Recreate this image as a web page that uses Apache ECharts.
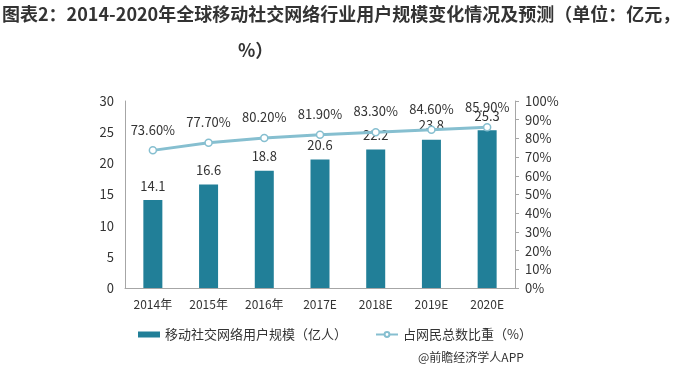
<!DOCTYPE html>
<html><head><meta charset="utf-8">
<script src="https://cdn.jsdelivr.net/npm/echarts@6/dist/echarts.min.js"></script>
<style>html,body{margin:0;padding:0;background:#fff}#c{width:680px;height:374px}</style>
</head><body><div id="c"></div>
<script>
const categories = ['2014年','2015年','2016年','2017E','2018E','2019E','2020E'];
const users = [14.1,16.6,18.8,20.6,22.2,23.8,25.3];
const share = [73.6,77.7,80.2,81.9,83.3,84.6,85.9];
const leftTicks = [0,5,10,15,20,25,30];
const rightTicks = [0,10,20,30,40,50,60,70,80,90,100];
const titleLine1 = '图表2：2014-2020年全球移动社交网络行业用户规模变化情况及预测（单位：亿元，';
const titleLine2 = '%）';
const seriesNames = ['移动社交网络用户规模（亿人）','占网民总数比重（%）'];
const sourceText = '@前瞻经济学人APP';

const chart = echarts.init(document.getElementById('c'));
const font = '"Noto Sans CJK SC","Noto Sans",sans-serif';
chart.setOption({
  animation:false,
  textStyle:{fontFamily:font},
  grid:{left:125,right:165,top:101,bottom:86},
  legend:{
    left:133, top:323, itemGap:28, itemWidth:22, itemHeight:6,
    textStyle:{fontSize:13,color:'#333',fontFamily:font},
    data:[{name:seriesNames[0],icon:'rect'},{name:seriesNames[1]}]
  },
  xAxis:{type:'category',data:categories,
    axisLine:{lineStyle:{color:'#a6a6a6'}},axisTick:{show:false},
    axisLabel:{color:'#333',fontSize:12,margin:10}},
  yAxis:[
    {type:'value',min:leftTicks[0],max:leftTicks[leftTicks.length-1],interval:5,
     axisLine:{show:true,lineStyle:{color:'#a6a6a6'}},axisTick:{show:false},
     splitLine:{show:false},axisLabel:{color:'#333',fontSize:13,margin:11}},
    {type:'value',min:rightTicks[0],max:rightTicks[rightTicks.length-1],interval:10,
     axisLine:{show:true,lineStyle:{color:'#a6a6a6'}},axisTick:{show:true,length:4,lineStyle:{color:'#a6a6a6'}},
     splitLine:{show:false},axisLabel:{color:'#333',fontSize:13,margin:10,formatter:'{value}%'}}
  ],
  series:[
    {name:seriesNames[0],type:'bar',data:users,barWidth:19,yAxisIndex:0,
     itemStyle:{color:'#217f98'},
     label:{show:true,position:'top',color:'#333',fontSize:13,distance:8}},
    {name:seriesNames[1],type:'line',data:share,yAxisIndex:1,
     symbol:'circle',symbolSize:7,
     lineStyle:{color:'#86bfd0',width:3},
     itemStyle:{color:'#fff',borderColor:'#86bfd0',borderWidth:1.5},
     label:{show:true,position:'top',color:'#333',fontSize:13,distance:10,
       formatter:p=>p.value.toFixed(2)+'%'}}
  ],
  graphic:[
    {type:'text',left:2,top:5,style:{text:titleLine1,font:'bold 18px '+font,fill:'#333'}},
    {type:'text',left:238,top:41,style:{text:titleLine2,font:'bold 18px '+font,fill:'#333'}},
    {type:'text',left:418,top:351,style:{text:sourceText,font:'12px '+font,fill:'#333'}}
  ]
});
</script></body></html>
